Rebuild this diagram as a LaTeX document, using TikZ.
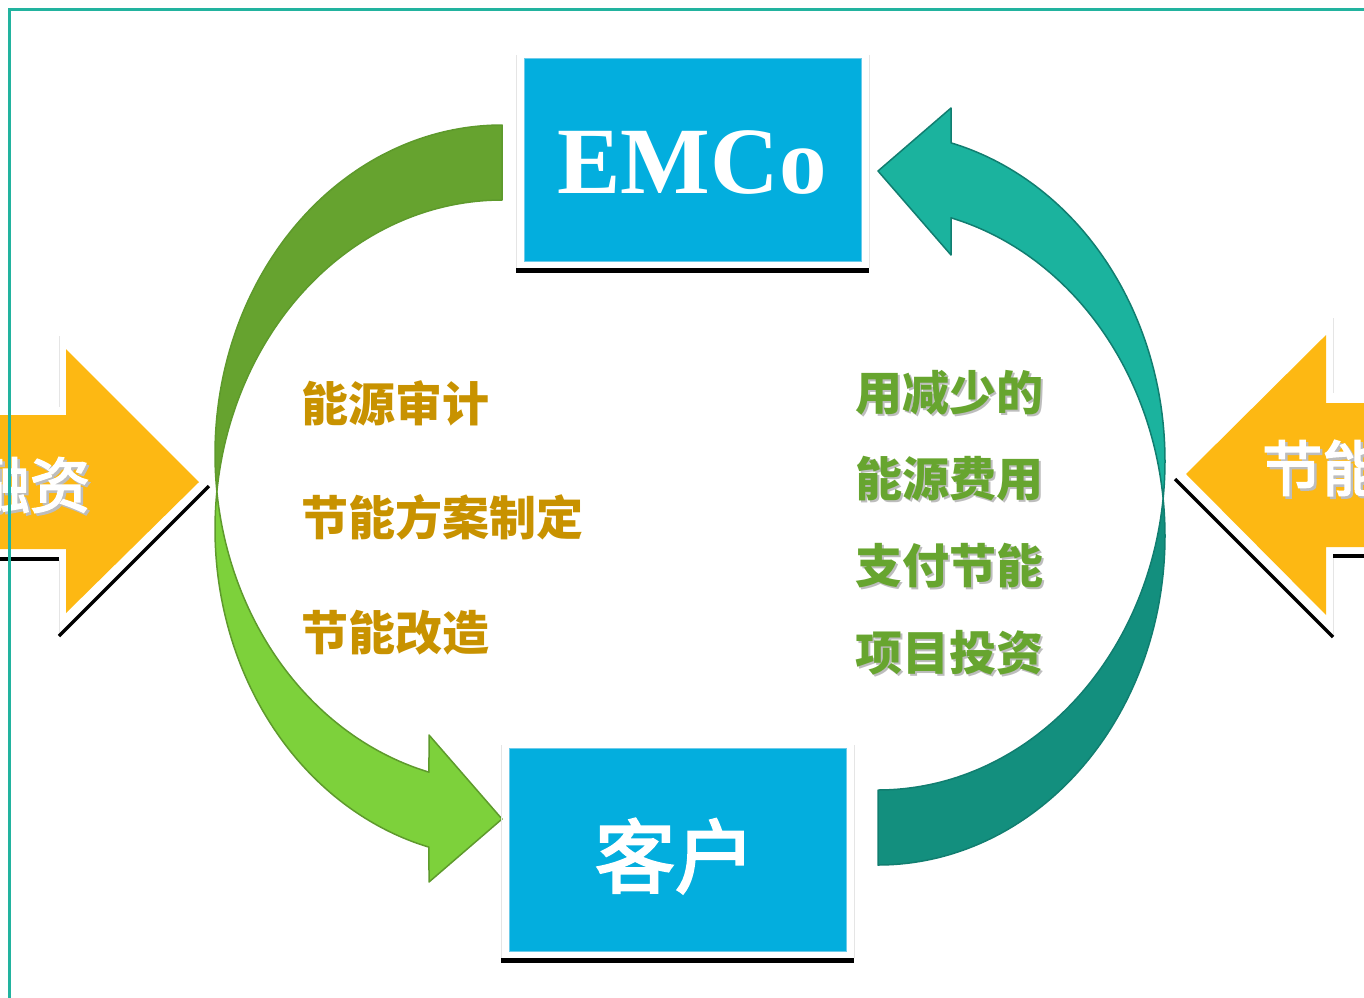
\documentclass[tikz,border=0pt]{standalone}
\usepackage{fontspec}
\newfontfamily\cjk{Noto Sans CJK SC}
\newfontfamily\cjkmid[FakeBold=3]{Noto Sans CJK SC}
\newfontfamily\emcofont{Liberation Serif}
\definecolor{framec}{HTML}{22B39F}
\definecolor{boxblue}{HTML}{03AEDE}
\definecolor{boxedge}{HTML}{6CCBEA}
\definecolor{arrowyellow}{HTML}{FDB813}
\definecolor{goldtext}{HTML}{C89200}
\definecolor{greentext}{HTML}{67A52F}
\definecolor{gdark}{HTML}{66A32F}
\definecolor{glight}{HTML}{7DD13B}
\definecolor{gstroke}{HTML}{5E9A2C}
\definecolor{tlight}{HTML}{1BB39E}
\definecolor{tdark}{HTML}{138F7E}
\definecolor{tstroke}{HTML}{117E70}
\definecolor{shadowgray}{HTML}{BDBDBD}
\newcommand\curvedarrowshape[3]{%
  \filldraw[fill=#1, draw=#3, line width=1.5, line join=round]
    plot[domain=270:173.45,samples=90] ({502+287*cos(\x)},{454+329*sin(\x)})
    -- plot[domain=186.55:270,samples=90] ({502+287*cos(\x)},{529+329*sin(\x)}) -- cycle;
  \filldraw[fill=#2, draw=#3, line width=1.5, line join=round]
    plot[domain=186.55:104.74,samples=90] ({502+287*cos(\x)},{529+329*sin(\x)})
    -- (429,882) -- (502,819) -- (429,735)
    -- plot[domain=104.74:173.45,samples=90] ({502+287*cos(\x)},{454+329*sin(\x)}) -- cycle;
}
\begin{document}
\begin{tikzpicture}[x=1pt,y=-1pt,
  bluebox/.style={fill=boxblue, draw=boxedge, line width=1, inner sep=0, minimum width=337, minimum height=203},
  shadowline/.style={black, line width=4.5},
  faintline/.style={black!10, line width=1},
  goldlabel/.style={anchor=west, inner sep=0, text=goldtext, font=\cjk\bfseries\fontsize{47}{56}\selectfont},
  greenlabel/.style={anchor=west, inner sep=0, text=greentext, font=\cjk\bfseries\fontsize{47}{56}\selectfont},
  greenshadow/.style={anchor=west, inner sep=0, text=shadowgray, font=\cjk\bfseries\fontsize{47}{56}\selectfont},
  arrowlabel/.style={inner sep=0, text=white, font=\cjkmid\fontsize{60}{70}\selectfont},
  arrowshadow/.style={inner sep=0, text=shadowgray, font=\cjkmid\fontsize{60}{70}\selectfont},
  yellowarrow/.style={fill=arrowyellow, draw=none}
]
\useasboundingbox (0,0) rectangle (1364,997);

% ---- left yellow arrow ----
\draw[faintline] (59,336) -- (59,407);
\draw[faintline] (59,560) -- (59,636);
\draw[shadowline, line width=3.5] (-5,559) -- (59,559);
\draw[shadowline, line width=3.5] (59,636) -- (209,486);
\fill[yellowarrow] (-5,415) -- (66,415) -- (66,349) -- (199,482) -- (66,613) -- (66,549) -- (-5,549) -- cycle;
\node[arrowshadow] (rzs) at (32.5,487.5) {融资};
\node[arrowlabel] (rz) at (30,485) {融资};

% ---- right yellow arrow ----
\draw[faintline] (1333,318) -- (1333,393);
\draw[faintline] (1333,557) -- (1333,637);
\draw[shadowline, line width=3.5] (1333,556) -- (1370,556);
\draw[shadowline, line width=3.5] (1175,479) -- (1333,637);
\fill[yellowarrow] (1370,403) -- (1326,403) -- (1326,335) -- (1186,474) -- (1326,615) -- (1326,547) -- (1370,547) -- cycle;
\node[arrowshadow, anchor=west] (jns) at (1264.5,470.5) {节能};
\node[arrowlabel, anchor=west] (jn) at (1262,468) {节能};

% ---- curved arrows ----
\curvedarrowshape{gdark}{glight}{gstroke}
\begin{scope}[rotate around={180:(690,495)}]
  \curvedarrowshape{tdark}{tlight}{tstroke}
\end{scope}

% ---- EMCo box ----
\draw[faintline] (516,55) -- (516,268);
\draw[faintline] (869,55) -- (869,268);
\node[bluebox] (emco) at (692.5,159.5) {};
\draw[shadowline] (516,270.5) -- (869,270.5);
\node[inner sep=0, text=white, font=\emcofont\bfseries\fontsize{95}{100}\selectfont] (emcot) at (692,162.5) {EMCo};

% ---- customer box ----
\draw[faintline] (501,745) -- (501,958);
\draw[faintline] (854,745) -- (854,958);
\node[bluebox] (kehu) at (677.5,849.5) {};
\draw[shadowline] (501,960.5) -- (854,960.5);
\node[inner sep=0, text=white, font=\cjkmid\fontsize{80}{90}\selectfont] (kehut) at (675,856) {客户};

% ---- left labels ----
\node[goldlabel] (l1) at (301,403) {能源审计};
\node[goldlabel] (l2) at (301,517) {节能方案制定};
\node[goldlabel] (l3) at (301,633) {节能改造};

% ---- right labels ----
\node[greenshadow] (r1s) at (857.5,395) {用减少的};
\node[greenlabel] (r1) at (855.5,393) {用减少的};
\node[greenshadow] (r2s) at (857.5,481) {能源费用};
\node[greenlabel] (r2) at (855.5,479) {能源费用};
\node[greenshadow] (r3s) at (857.5,568) {支付节能};
\node[greenlabel] (r3) at (855.5,566) {支付节能};
\node[greenshadow] (r4s) at (857.5,655) {项目投资};
\node[greenlabel] (r4) at (855.5,653) {项目投资};

% ---- frame ----
\draw[framec, line width=2.7] (9.7,1000) -- (9.7,9.7) -- (1370,9.7);
\end{tikzpicture}
\end{document}
